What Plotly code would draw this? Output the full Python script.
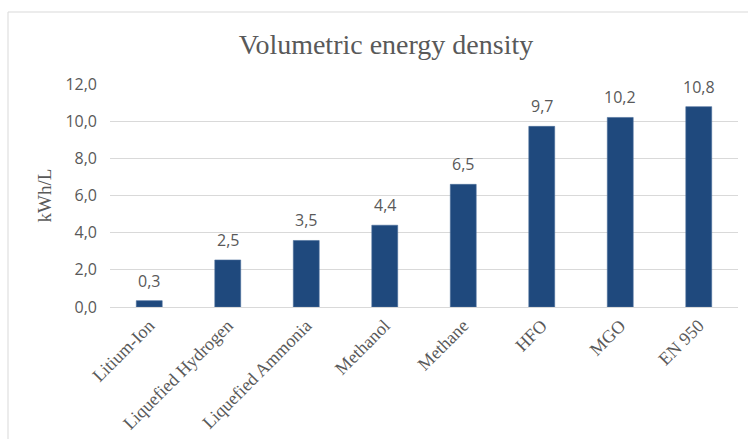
import plotly.graph_objects as go

categories = ["Litium-Ion", "Liquefied Hydrogen", "Liquefied Ammonia", "Methanol",
              "Methane", "HFO", "MGO", "EN 950"]
values = [0.34, 2.53, 3.58, 4.4, 6.6, 9.72, 10.2, 10.78]
value_labels = ["0,3", "2,5", "3,5", "4,4", "6,5", "9,7", "10,2", "10,8"]
y_ticks = [0, 2, 4, 6, 8, 10, 12]
y_tick_labels = ["0,0", "2,0", "4,0", "6,0", "8,0", "10,0", "12,0"]

W, H = 748, 439
L, R, T, B = 110, 10, 84, 132
pw, ph = W - L - R, H - T - B

gray = "#595959"
fig = go.Figure(go.Bar(x=categories, y=values, marker=dict(color="#1F497D",
                line=dict(color="#4A6D9A", width=0.6)), hoverinfo="skip"))

for c, v, t in zip(categories, values, value_labels):
    fig.add_annotation(x=c, y=v, text=t, showarrow=False, yanchor="bottom",
                       yshift=7, font=dict(family="Open Sans", size=16, color=gray))

# outer chart border (left and top visible)
def px_to_paper_x(px):
    return (px - L) / pw

def px_to_paper_y(py):
    return (H - B - py) / ph

fig.add_shape(type="rect", xref="paper", yref="paper",
              x0=px_to_paper_x(8), x1=px_to_paper_x(770),
              y0=px_to_paper_y(460), y1=px_to_paper_y(12),
              line=dict(color="#D9D9D9", width=1), fillcolor="rgba(0,0,0,0)", layer="below")

fig.update_layout(
    width=W, height=H,
    margin=dict(l=L, r=R, t=T, b=B, autoexpand=False),
    paper_bgcolor="white", plot_bgcolor="white",
    bargap=0.67,
    showlegend=False,
    title=dict(text="Volumetric energy density", x=386 / W, xref="container", xanchor="center",
               y=1 - 44 / H, yref="container", yanchor="middle",
               font=dict(family="Liberation Serif", size=28, color=gray)),
    xaxis=dict(tickangle=-45, tickfont=dict(family="Liberation Serif", size=18, color=gray),
               showline=True, linecolor="#D9D9D9", linewidth=1, ticks="", automargin=False,
               showgrid=False),
    yaxis=dict(range=[0, 12], tickvals=y_ticks, ticktext=y_tick_labels,
               tickfont=dict(family="Open Sans", size=16, color=gray),
               showgrid=True, gridcolor="#D9D9D9", gridwidth=1, zeroline=False,
               ticks="", ticklabelstandoff=12, automargin=False,
               title=dict(text="kWh/L", standoff=8,
                          font=dict(family="Liberation Serif", size=19, color=gray))),
)

fig.write_html("out.html")
